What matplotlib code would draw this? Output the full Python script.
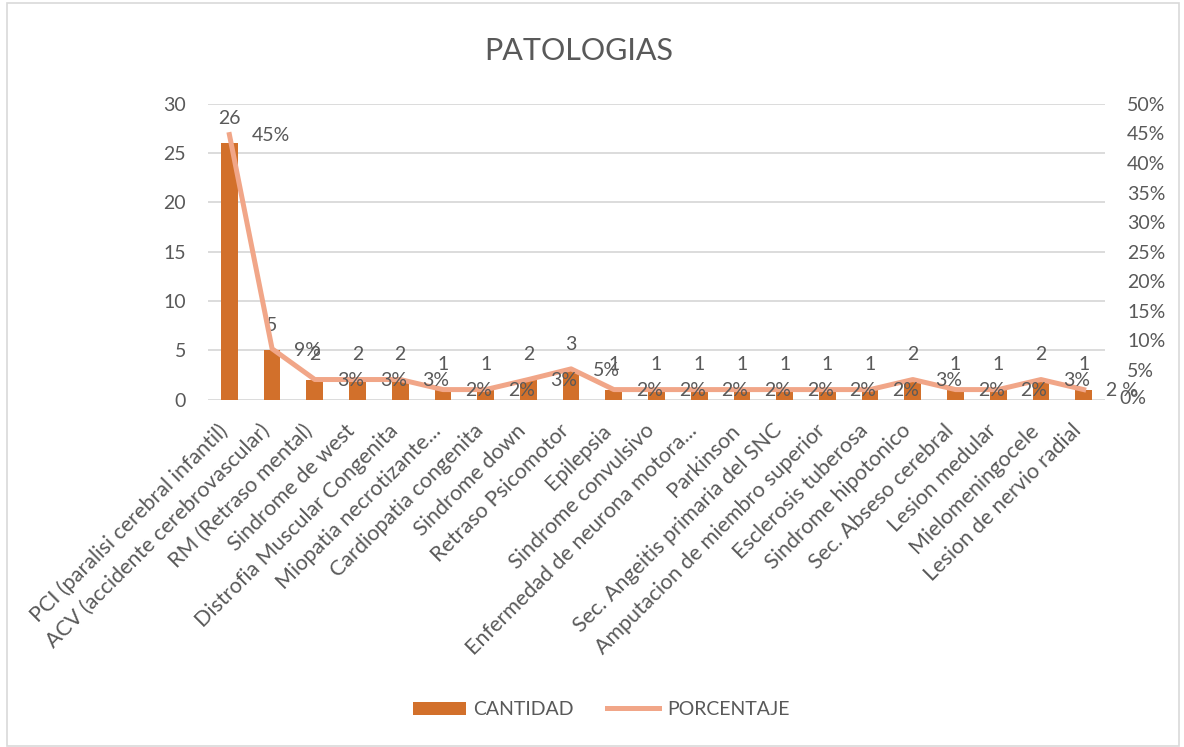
import matplotlib.pyplot as plt
import matplotlib.transforms as mtransforms
from matplotlib.ticker import MultipleLocator, FuncFormatter
from matplotlib.patches import Rectangle

plt.rcParams['font.family'] = ['Lato', 'DejaVu Sans']

categorias = [
    "PCI (paralisi cerebral infantil)",
    "ACV (accidente cerebrovascular)",
    "RM (Retraso mental)",
    "Sindrome de west",
    "Distrofia Muscular Congenita",
    "Miopatia necrotizante...",
    "Cardiopatia congenita",
    "Sindrome down",
    "Retraso Psicomotor",
    "Epilepsia",
    "Sindrome convulsivo",
    "Enfermedad de neurona motora...",
    "Parkinson",
    "Sec. Angeitis primaria del SNC",
    "Amputacion de miembro superior",
    "Esclerosis tuberosa",
    "Sindrome hipotonico",
    "Sec. Abseso cerebral",
    "Lesion medular",
    "Mielomeningocele",
    "Lesion de nervio radial",
]
cantidad = [26, 5, 2, 2, 2, 1, 1, 2, 3, 1, 1, 1, 1, 1, 1, 1, 2, 1, 1, 2, 1]
# line values (fraction)
porcentaje = [0.448, 0.086, 0.034, 0.034, 0.034, 0.017, 0.017, 0.034, 0.052, 0.017,
              0.017, 0.017, 0.017, 0.017, 0.017, 0.017, 0.034, 0.017, 0.017, 0.034, 0.017]
etiquetas_pct = ["45%", "9%", "3%", "3%", "3%", "2%", "2%", "3%", "5%", "2%",
                 "2%", "2%", "2%", "2%", "2%", "2%", "3%", "2%", "2%", "3%", "2 %"]

TEXT = '#595959'
BAR = '#D2702B'
LINE = '#F1A688'
GRID = '#D9D9D9'

fig = plt.figure(figsize=(11.84, 7.47), dpi=100)
ax = fig.add_axes([0.1757, 0.465, 0.7576, 0.396])
ax2 = ax.twinx()

x = list(range(len(categorias)))
ax.bar(x, cantidad, width=0.39, color=BAR, zorder=2, label='CANTIDAD')
ax2.plot(x, porcentaje, color=LINE, lw=3.6, label='PORCENTAJE')

ax.set_xlim(-0.5, len(categorias) - 0.5)
ax.set_ylim(0, 30)
ax2.set_ylim(0, 0.5)
ax.yaxis.set_major_locator(MultipleLocator(5))
ax2.yaxis.set_major_locator(MultipleLocator(0.05))
ax2.yaxis.set_major_formatter(FuncFormatter(lambda v, p: f"{v*100:.0f}%"))

ax.grid(axis='y', color=GRID, lw=1.3, zorder=0)
ax.set_axisbelow(True)
for a in (ax, ax2):
    for s in a.spines.values():
        s.set_visible(False)
    a.tick_params(length=0, colors=TEXT, labelsize=14)
ax.tick_params(axis='y', pad=16)
ax2.tick_params(axis='y', pad=16)

ax.set_xticks(x)
ax.set_xticklabels(categorias, rotation=45, ha='right', rotation_mode='anchor',
                   fontsize=15.5, color=TEXT)
ax.tick_params(axis='x', pad=15)
# nudge the rotated labels a little to the left, like Excel places them
shift = mtransforms.ScaledTranslation(-9 / 72, 0, fig.dpi_scale_trans)
for lab in ax.get_xticklabels():
    lab.set_transform(lab.get_transform() + shift)

# the 0% and 5% labels on the right axis sit a bit off in the original
rlabels = ax2.get_yticklabels()
rlabels[0].set_transform(rlabels[0].get_transform() +
                         mtransforms.ScaledTranslation(4 / 72, 0, fig.dpi_scale_trans))
rlabels[1].set_transform(rlabels[1].get_transform() +
                         mtransforms.ScaledTranslation(-6 / 72, 2 / 72, fig.dpi_scale_trans))

for i, v in enumerate(cantidad):
    ax.annotate(str(v), (i, v), xytext=(0, 12), textcoords='offset points',
                ha='center', va='bottom', fontsize=14, color=TEXT)
for i, (p, lbl) in enumerate(zip(porcentaje, etiquetas_pct)):
    ax2.annotate(lbl, (i, p), xytext=(16, -1), textcoords='offset points',
                 ha='left', va='center', fontsize=14, color=TEXT)

fig.text(0.489, 0.932, 'PATOLOGIAS', ha='center', va='center', fontsize=22, color=TEXT)

h1, l1 = ax.get_legend_handles_labels()
h2, l2 = ax2.get_legend_handles_labels()
fig.legend(h1 + h2, l1 + l2, loc='center', bbox_to_anchor=(0.508, 0.05), ncol=2,
           frameon=False, fontsize=14, labelcolor=TEXT, handlelength=2.7,
           handleheight=0.7, columnspacing=1.7, handletextpad=0.4)

fig.patches.append(Rectangle((0.006, 0.002), 0.99, 0.994, transform=fig.transFigure,
                             fill=False, ec=GRID, lw=1.2))

fig.savefig('out.png', dpi=100)
